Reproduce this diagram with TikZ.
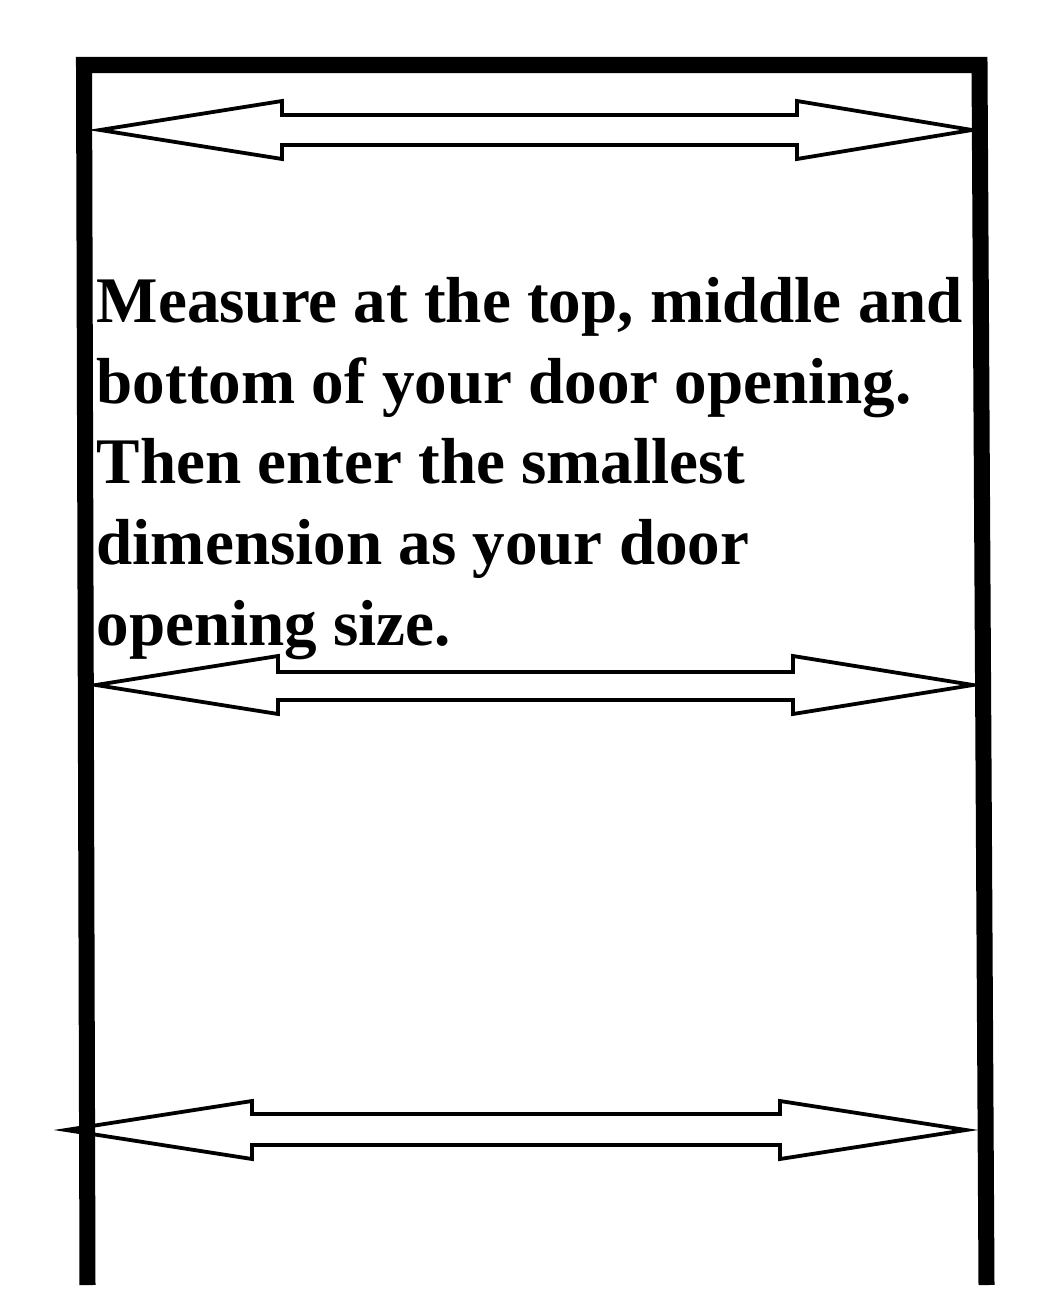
\documentclass[tikz,border=0pt]{standalone}
\usepackage{fontspec}
\setmainfont{Liberation Serif}
\usepackage{tikz}
\usetikzlibrary{positioning}
\tikzset{
  frame/.style={draw=black, line width=0.16cm, line cap=butt, line join=miter},
  dimarr/.style={draw=black, fill=white, line width=0.038cm, line join=miter},
  note/.style={font=\fontsize{18.5}{22.9}\selectfont\bfseries,
    align=left, inner sep=0pt},
}
\begin{document}
\begin{tikzpicture}[x=0.01cm, y=-0.01cm]
  \useasboundingbox (0,0) rectangle (1059,1291);

  % ---- Instruction text ----
  \node[note, anchor=base west] (msg) at (96,645)
       {Measure at the top, middle and\\
        bottom of your door opening.\\
        Then enter the smallest\\
        dimension as your door\\
        opening size.};

  % ---- Width arrows: top, middle, bottom ----
  \draw[dimarr] (100,130) -- (282,101) -- (282,115) -- (797,115) -- (797,101)
    -- (972,130) -- (797,159) -- (797,145) -- (282,145) -- (282,159) -- cycle;
  \draw[dimarr] (96,685) -- (278,656) -- (278,672) -- (793,672) -- (793,656)
    -- (973,685) -- (793,714) -- (793,700) -- (278,700) -- (278,714) -- cycle;
  \draw[dimarr] (66,1130) -- (252,1101) -- (252,1114) -- (780,1114) -- (780,1101)
    -- (966,1130) -- (780,1159) -- (780,1145) -- (252,1145) -- (252,1159) -- cycle;

  % ---- Door frame ----
  \draw[frame] (87.5,1285) -- (84,65) -- (979.5,65) -- (986.5,1285);
\end{tikzpicture}
\end{document}
